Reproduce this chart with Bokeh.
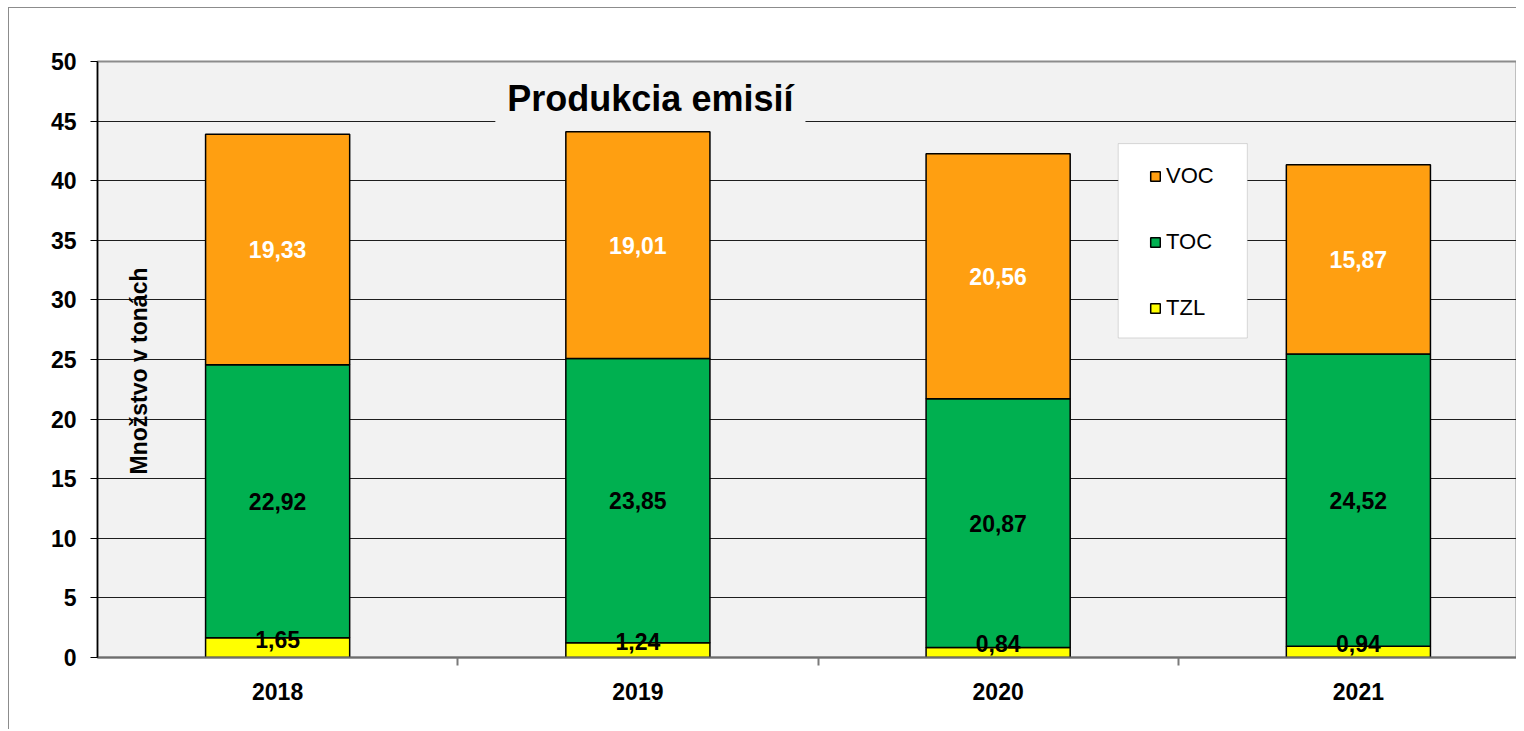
import numpy as np
from bokeh.plotting import figure
from bokeh.models import (ColumnDataSource, Range1d, FixedTicker, Legend, LegendItem,
                          Label, BoxAnnotation)
from bokeh.core.properties import value
from bokeh.embed import file_html
from bokeh.resources import INLINE

years = ["2018", "2019", "2020", "2021"]
tzl = [1.65, 1.24, 0.84, 0.94]
toc = [22.92, 23.85, 20.87, 24.52]
voc = [19.33, 19.01, 20.56, 15.87]
series_names = ["TZL", "TOC", "VOC"]
colors = ["#FFFF00", "#00B050", "#FF9F11"]
y_ticks = [0, 5, 10, 15, 20, 25, 30, 35, 40, 45, 50]

FONT = "Liberation Sans"
W, H = 1508, 722
LEFT, TOP = 88, 53
FRAME_H = 595
CW, CH = W - 1, H - 1
FRAME_W = CW - LEFT
CAT_PX = 360.0

xs = np.arange(len(years)) + 0.5
src = ColumnDataSource(dict(x=xs, tzl=tzl, toc=toc, voc=voc))

p = figure(width=W, height=H, output_backend="svg", toolbar_location=None,
           x_range=Range1d(0, FRAME_W / CAT_PX), y_range=Range1d(0, 50),
           min_border_left=LEFT, min_border_top=TOP, min_border_right=0,
           min_border_bottom=CH - TOP - FRAME_H,
           background_fill_color="#F2F2F2", border_fill_color="white")
p.styles = {"border-left": "1px solid #8c8c8c", "border-top": "1px solid #8c8c8c",
            "box-sizing": "border-box", "margin-left": "8px", "margin-top": "7px"}
p.outline_line_color = "#8c8c8c"
p.outline_line_width = 2

# grid
p.xgrid.visible = False
p.ygrid.ticker = FixedTicker(ticks=y_ticks[1:-1])
p.ygrid.grid_line_color = "#1e1e1e"
p.ygrid.grid_line_width = 1

# y axis
p.yaxis.ticker = FixedTicker(ticks=y_ticks)
p.yaxis.axis_line_color = "black"
p.yaxis.axis_line_width = 1.5
p.yaxis.major_tick_out = 7
p.yaxis.major_tick_in = 0
p.yaxis.major_tick_line_color = "black"
p.yaxis.minor_tick_line_color = None
p.yaxis.major_label_standoff = 14
p.yaxis.major_label_text_font = FONT
p.yaxis.major_label_text_font_style = "bold"
p.yaxis.major_label_text_font_size = "23px"
p.yaxis.major_label_text_color = "black"

# x axis
p.xaxis.ticker = FixedTicker(ticks=list(xs), minor_ticks=[1, 2, 3])
p.xaxis.major_label_overrides = {float(x): y for x, y in zip(xs, years)}
p.xaxis.axis_line_color = "#6e6e6e"
p.xaxis.axis_line_width = 2
p.xaxis.major_tick_line_color = None
p.xaxis.major_tick_out = 0
p.xaxis.major_tick_in = 0
p.xaxis.minor_tick_out = 8
p.xaxis.minor_tick_in = 0
p.xaxis.minor_tick_line_color = "#7a7a7a"
p.xaxis.minor_tick_line_width = 2
p.xaxis.major_label_standoff = 17
p.xaxis.major_label_text_font = FONT
p.xaxis.major_label_text_font_style = "bold"
p.xaxis.major_label_text_font_size = "23px"
p.xaxis.major_label_text_color = "black"

# bars
rs = p.vbar_stack(["tzl", "toc", "voc"], x="x", width=0.4, color=colors,
                  line_color="black", line_width=1.5, source=src)

# value labels
tzl_a = np.array(tzl); toc_a = np.array(toc); voc_a = np.array(voc)
px_per_unit = FRAME_H / 50.0
lab_mid = ColumnDataSource(dict(
    x=np.concatenate([xs, xs]),
    y=np.concatenate([tzl_a + toc_a / 2, tzl_a + toc_a + voc_a / 2]),
    t=[f"{v:.2f}".replace(".", ",") for v in toc] + [f"{v:.2f}".replace(".", ",") for v in voc],
    c=["black"] * 4 + ["white"] * 4))
p.text(x="x", y="y", text="t", text_color="c", source=lab_mid,
       text_align="center", text_baseline="middle",
       text_font=value(FONT), text_font_style="bold", text_font_size="23px")
lab_low = ColumnDataSource(dict(
    x=xs, y=tzl_a / 2 + 8.5 / px_per_unit,
    t=[f"{v:.2f}".replace(".", ",") for v in tzl]))
p.text(x="x", y="y", text="t", text_color="black", source=lab_low,
       text_align="center", text_baseline="alphabetic",
       text_font=value(FONT), text_font_style="bold", text_font_size="23px")

# y label inside plot
p.add_layout(Label(x=(138 - 97) / CAT_PX, y=(656 - 370) / px_per_unit,
                   text="Množstvo v tonách", angle=np.pi / 2,
                   text_align="center", text_baseline="middle",
                   text_font=FONT, text_font_style="bold", text_font_size="23px",
                   text_color="black"))

# title
p.add_layout(Label(x=(649.5 - 97) / CAT_PX, y=(656 - 98) / px_per_unit,
                   text="Produkcia emisií", text_align="center", text_baseline="middle",
                   text_font=FONT, text_font_style="bold", text_font_size="36px",
                   text_color="black", background_fill_color="#F2F2F2",
                   padding=12))

# legend box
p.add_layout(BoxAnnotation(left=(1117 - 97) / CAT_PX, right=(1246 - 97) / CAT_PX,
                           top=(656 - 143) / px_per_unit, bottom=(656 - 337) / px_per_unit,
                           fill_color="white", fill_alpha=1, line_color="#8c8c8c",
                           line_width=1))
legend = Legend(items=[LegendItem(label=series_names[i], renderers=[rs[i]]) for i in (2, 1, 0)],
                location=(1149 - 97, 656 - 319.5), padding=0, margin=0, spacing=40,
                label_height=25, glyph_height=12, glyph_width=12, label_standoff=5,
                background_fill_alpha=0, border_line_alpha=0,
                label_text_font=FONT, label_text_font_size="22px", label_text_color="black")
p.add_layout(legend)

open("out.html", "w").write(file_html(p, INLINE))
